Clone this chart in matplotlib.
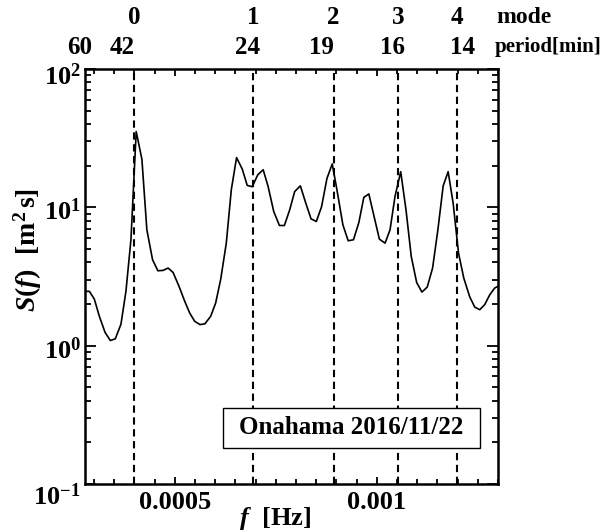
import math
import matplotlib
matplotlib.use("Agg")
import matplotlib.pyplot as plt
import matplotlib.ticker as mticker
import matplotlib.transforms as mtransforms
from matplotlib.patches import Rectangle

plt.rcParams['font.family'] = ['Liberation Serif', 'DejaVu Serif']
plt.rcParams['font.weight'] = 'bold'
plt.rcParams['mathtext.fontset'] = 'custom'
plt.rcParams['mathtext.rm'] = 'Liberation Serif:bold'
plt.rcParams['mathtext.bf'] = 'Liberation Serif:bold'
plt.rcParams['mathtext.it'] = 'Liberation Serif:italic:bold'

# frequency in mHz
freq_mhz = [0.2805, 0.2886, 0.3009, 0.3133, 0.3273, 0.3404, 0.3527, 0.3668, 0.3791, 0.3915,
            0.4045, 0.4186, 0.4309, 0.4450, 0.4581, 0.4711, 0.4835, 0.4958, 0.5106, 0.5247,
            0.5370, 0.5493, 0.5624, 0.5747, 0.5888, 0.6011, 0.6135, 0.6275, 0.6399, 0.6529,
            0.6670, 0.6793, 0.6917, 0.7055, 0.7188, 0.7311, 0.7449, 0.7590, 0.7713, 0.7844,
            0.7967, 0.8108, 0.8239, 0.8372, 0.8503, 0.8633, 0.8767, 0.8897, 0.9013, 0.9161,
            0.9292, 0.9423, 0.9556, 0.9679, 0.9803, 0.9933, 1.0064, 1.0205, 1.0328, 1.0451,
            1.0592, 1.0723, 1.0853, 1.0987, 1.1117, 1.1248, 1.1381, 1.1512, 1.1643, 1.1766,
            1.1890, 1.2023, 1.2153, 1.2301, 1.2425, 1.2548, 1.2671, 1.2795, 1.2918, 1.2992]
spectrum = [2.47, 2.47, 2.17, 1.63, 1.25, 1.09, 1.12, 1.43, 2.47, 5.83,
            35.3, 22.3, 6.88, 4.18, 3.48, 3.50, 3.64, 3.38, 2.68, 2.09,
            1.72, 1.50, 1.42, 1.44, 1.63, 2.03, 3.00, 5.51, 13.4, 22.9,
            18.9, 14.4, 14.1, 17.2, 18.7, 14.1, 9.33, 7.39, 7.39, 9.59,
            13.0, 14.3, 10.8, 8.26, 7.90, 10.1, 16.2, 20.6, 13.4, 7.47,
            5.73, 5.83, 7.77, 11.8, 12.5, 8.58, 5.89, 5.51, 6.88, 12.0,
            18.1, 9.59, 4.41, 2.86, 2.44, 2.65, 3.64, 6.88, 14.3, 18.1,
            10.7, 4.67, 3.08, 2.25, 1.90, 1.82, 1.98, 2.33, 2.61, 2.68]

mode_freq_mhz = [0.3996, 0.6939, 0.8930, 1.0533, 1.1974]
mode_labels = ['0', '1', '2', '3', '4']
period_labels = ['42', '24', '19', '16', '14']
period_label_freq_mhz = [0.3693, 0.6800, 0.8638, 1.0377, 1.2129]
edge_period_label = '60'
station_text = 'Onahama 2016/11/22'
x_ticks = [0.0005, 0.001]
x_ticklabels = ['0.0005', '0.001']
y_ticks = [0.1, 1, 10, 100]

xlim = (1 / 3600, 0.0013)
ylim = (0.1, 100)

fig = plt.figure(figsize=(6.0, 5.31), dpi=100)
ax = fig.add_axes([85 / 600, 1 - 484 / 531, 413 / 600, 415 / 531])

f_hz = [v * 1e-3 for v in freq_mhz]
ax.plot(f_hz, spectrum, color='black', lw=1.2)

for fm in mode_freq_mhz:
    ax.axvline(fm * 1e-3, color='black', lw=1.5, ls=(0, (3.5, 2.2)))

ax.set_yscale('log')
ax.set_xlim(*xlim)
ax.set_ylim(*ylim)

ax.xaxis.set_major_locator(mticker.FixedLocator(x_ticks))
ax.xaxis.set_major_formatter(mticker.FixedFormatter(x_ticklabels))
ax.xaxis.set_minor_locator(mticker.MultipleLocator(0.00005))
ax.yaxis.set_major_locator(mticker.FixedLocator(y_ticks))
ax.yaxis.set_minor_locator(mticker.LogLocator(base=10, subs=range(2, 10), numticks=20))
ax.yaxis.set_major_formatter(mticker.FuncFormatter(
    lambda v, p: r'$\mathrm{10^{%d}}$' % round(math.log10(v))))
ax.yaxis.set_minor_formatter(mticker.NullFormatter())

ax.tick_params(axis='both', which='both', direction='in', top=True, right=True,
               width=1.3, labelsize=19, color='black')
ax.tick_params(axis='x', which='major', length=5, pad=5)
ax.tick_params(axis='x', which='minor', length=3.5)
ax.tick_params(axis='y', which='major', length=8, pad=3)
ax.tick_params(axis='y', which='minor', length=4)
for sp in ax.spines.values():
    sp.set_linewidth(1.8)

y_label_offsets_px = [10, 2.5, 2, 5]
for lab, off in zip(ax.get_yticklabels(), y_label_offsets_px):
    lab.set_transform(lab.get_transform() +
                      mtransforms.ScaledTranslation(0, -off / 100, fig.dpi_scale_trans))

tr = mtransforms.blended_transform_factory(ax.transData, ax.transAxes)
for fm, lab in zip(mode_freq_mhz, mode_labels):
    ax.text(fm * 1e-3, 1.123, lab, transform=tr, ha='center', va='center', fontsize=18, fontweight='bold')
for fm, lab in zip(period_label_freq_mhz, period_labels):
    ax.text(fm * 1e-3, 1.053, lab, transform=tr, ha='center', va='center', fontsize=18, fontweight='bold')
ax.text(0.2657e-3, 1.053, edge_period_label, transform=tr, ha='center', va='center', fontsize=18, fontweight='bold')
ax.text(0.997, 1.123, 'mode', transform=ax.transAxes, ha='left', va='center', fontsize=17, fontweight='bold')
ax.text(0.992, 1.053, 'period[min]', transform=ax.transAxes, ha='left', va='center', fontsize=15, fontweight='bold')

ax.add_patch(Rectangle((0.333, 0.0875), 0.623, 0.0955, transform=ax.transAxes,
                       facecolor='white', edgecolor='black', lw=1.0, zorder=5))
ax.text(0.6445, 0.135, station_text, transform=ax.transAxes, ha='center', va='center',
        fontsize=18, fontweight='bold', zorder=6)

fig.text(28 / 600, 1 - 250 / 531, r'$\mathit{S(f)}\ \ \mathrm{[m^{2}\,s]}$', rotation=90,
         ha='center', va='center', fontsize=20)
fig.text(275 / 600, 1 - 518 / 531, r'$\mathit{f}\ \ \mathrm{[Hz]}$', ha='center', va='center', fontsize=19)

fig.savefig('out.png', dpi=100)
